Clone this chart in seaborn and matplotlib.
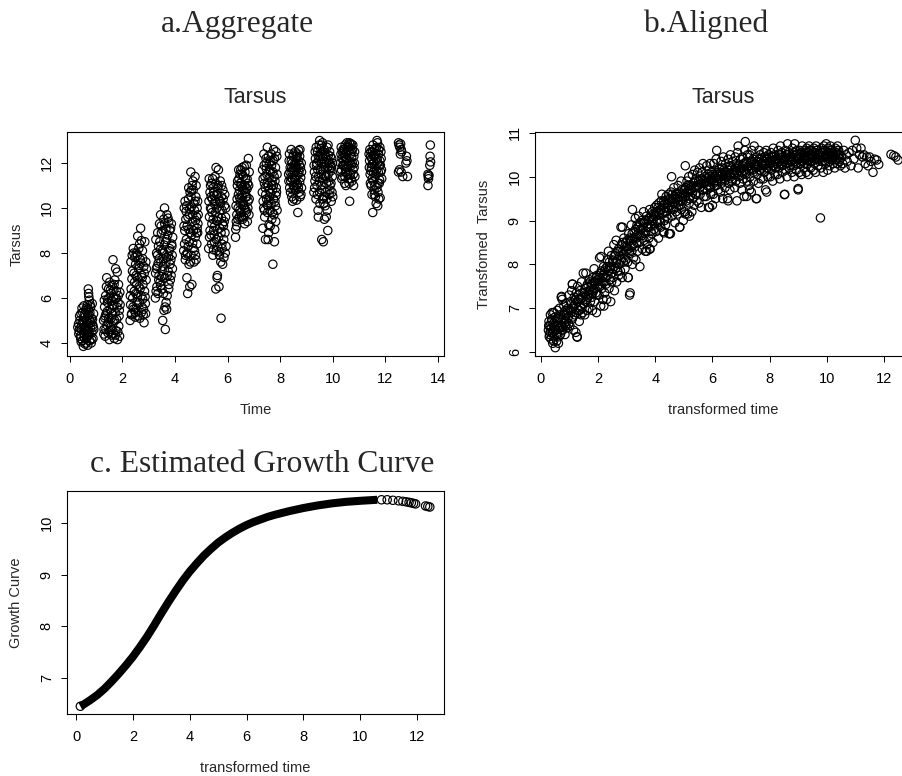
import matplotlib
matplotlib.use("Agg")
import matplotlib.pyplot as plt
import seaborn as sns

# panel a: raw (time, tarsus) readings, grouped by sampling occasion
aggregate_pts = [
    # ~0.6
    (0.30,4.7),(0.33,4.85),(0.35,4.55),(0.38,5.0),(0.40,4.3),(0.42,5.3),(0.44,4.6),(0.46,5.55),
    (0.48,4.1),(0.50,4.9),(0.51,3.85),(0.53,5.65),(0.55,4.4),(0.56,5.15),(0.58,3.95),(0.60,4.75),
    (0.61,5.45),(0.63,4.2),(0.64,5.0),(0.66,4.55),(0.67,5.7),(0.69,4.35),(0.70,6.4),(0.71,6.2),
    (0.72,6.05),(0.72,4.85),(0.74,5.9),(0.75,4.1),(0.76,5.35),(0.78,4.65),(0.79,5.6),(0.81,4.0),
    (0.82,5.1),(0.84,4.45),(0.85,5.75),(0.87,4.8),(0.88,4.2),(0.90,5.3),(0.91,4.6),(0.57,4.6),
    (0.62,4.0),(0.68,5.2),(0.45,4.8),(0.52,4.45),(0.77,5.0),
    (0.34,4.4),(0.37,5.2),(0.39,4.65),(0.43,4.05),(0.47,4.95),(0.49,5.35),(0.54,4.25),(0.57,5.3),
    (0.59,4.5),(0.62,5.55),(0.65,4.3),(0.66,4.9),(0.68,3.9),(0.70,4.6),(0.73,5.25),(0.74,4.4),
    (0.77,5.7),(0.80,4.9),(0.83,4.15),(0.86,5.05),(0.89,4.7),(0.71,5.5),(0.53,5.0),(0.41,4.2),
    # ~1.6
    (1.28,5.0),(1.30,4.6),(1.32,5.6),(1.34,4.3),(1.36,6.1),(1.38,5.3),(1.40,6.9),(1.41,4.8),
    (1.43,5.8),(1.45,4.45),(1.47,6.4),(1.48,5.1),(1.50,4.15),(1.51,6.7),(1.53,5.5),(1.55,4.7),
    (1.56,6.2),(1.58,5.9),(1.59,4.35),(1.61,6.55),(1.62,5.25),(1.64,7.7),(1.65,4.9),(1.66,6.0),
    (1.68,5.65),(1.69,4.2),(1.71,6.8),(1.72,5.35),(1.74,7.3),(1.75,4.55),(1.77,6.3),(1.78,5.05),
    (1.80,7.15),(1.81,4.15),(1.83,5.8),(1.85,6.6),(1.86,4.75),(1.88,5.45),(1.90,6.25),(1.44,5.95),
    (1.57,5.1),(1.67,6.35),(1.35,5.2),(1.73,5.95),
    (1.29,4.4),(1.31,5.9),(1.33,5.1),(1.37,4.6),(1.39,6.5),(1.42,5.4),(1.46,4.9),(1.49,6.0),
    (1.52,4.5),(1.54,6.35),(1.58,5.35),(1.60,4.6),(1.63,5.7),(1.66,4.4),(1.68,6.6),(1.70,5.0),
    (1.73,4.35),(1.76,6.0),(1.79,5.6),(1.82,4.5),(1.84,6.1),(1.87,5.2),(1.89,4.3),(1.91,5.7),
    # ~2.6
    (2.29,5.0),(2.31,5.7),(2.33,6.4),(2.35,5.3),(2.37,7.9),(2.39,6.0),(2.41,8.2),(2.42,5.5),
    (2.44,7.1),(2.46,6.7),(2.48,5.15),(2.50,7.5),(2.51,6.2),(2.53,8.0),(2.55,5.8),(2.56,6.9),
    (2.58,8.75),(2.60,5.4),(2.61,7.3),(2.63,6.5),(2.65,8.4),(2.66,5.1),(2.68,7.7),(2.69,9.1),
    (2.71,6.1),(2.73,7.0),(2.74,5.6),(2.76,8.1),(2.78,6.6),(2.79,5.25),(2.81,7.4),(2.82,4.9),
    (2.84,6.3),(2.85,8.5),(2.87,5.75),(2.89,7.6),(2.90,6.8),(2.36,6.85),(2.47,7.8),(2.57,6.05),
    (2.64,7.45),(2.72,8.55),(2.52,5.55),(2.77,5.95),
    (2.30,6.1),(2.32,7.6),(2.34,5.25),(2.38,7.2),(2.40,5.6),(2.43,8.0),(2.45,6.3),(2.49,5.35),
    (2.52,7.0),(2.54,6.6),(2.57,7.9),(2.59,5.2),(2.62,8.2),(2.64,5.8),(2.67,6.4),(2.70,7.55),
    (2.72,5.35),(2.75,6.9),(2.77,7.75),(2.80,5.5),(2.83,7.1),(2.86,6.05),(2.88,5.3),(2.91,7.3),
    # ~3.6
    (3.25,6.0),(3.27,8.6),(3.29,7.3),(3.31,6.5),(3.33,7.9),(3.35,6.2),(3.37,8.3),(3.39,7.0),
    (3.41,9.3),(3.43,6.7),(3.45,9.7),(3.46,7.6),(3.48,8.9),(3.50,6.4),(3.52,8.1),(3.53,5.0),
    (3.55,7.4),(3.57,9.5),(3.58,5.45),(3.60,10.0),(3.61,6.9),(3.63,4.6),(3.64,8.5),(3.66,5.8),
    (3.67,7.8),(3.69,9.7),(3.70,6.1),(3.72,8.8),(3.74,7.2),(3.76,9.4),(3.77,6.6),(3.79,8.2),
    (3.81,7.5),(3.83,9.1),(3.85,7.0),(3.87,8.4),(3.89,7.9),(3.91,8.7),(3.44,8.15),(3.54,7.75),
    (3.65,9.05),(3.75,7.85),(3.49,6.95),(3.59,8.35),(3.68,5.5),(3.36,7.55),
    (3.26,7.1),(3.28,6.3),(3.30,8.0),(3.32,7.4),(3.34,8.9),(3.38,6.8),(3.40,7.75),(3.42,8.5),
    (3.45,6.55),(3.47,9.2),(3.51,7.2),(3.54,9.0),(3.56,6.2),(3.58,8.0),(3.61,9.3),(3.62,5.6),
    (3.65,7.6),(3.68,8.6),(3.71,7.0),(3.73,9.55),(3.76,6.4),(3.78,8.1),(3.80,9.0),(3.82,6.8),
    (3.84,7.7),(3.86,9.3),(3.88,8.3),(3.90,7.3),
    # ~4.6
    (4.33,8.1),(4.35,10.0),(4.37,9.0),(4.39,7.7),(4.41,9.5),(4.43,8.6),(4.45,6.9),(4.46,9.2),
    (4.48,6.2),(4.50,8.3),(4.51,10.4),(4.53,7.5),(4.55,9.7),(4.56,6.5),(4.58,8.9),(4.60,11.6),
    (4.61,7.9),(4.63,10.8),(4.64,6.6),(4.66,9.4),(4.68,11.2),(4.69,8.2),(4.71,10.2),(4.72,7.6),
    (4.74,9.9),(4.76,11.4),(4.77,8.7),(4.79,10.5),(4.80,7.7),(4.82,9.6),(4.84,10.0),(4.86,8.9),
    (4.87,9.3),(4.42,9.85),(4.52,9.05),(4.62,10.05),(4.70,9.0),(4.78,9.45),(4.47,7.95),(4.57,10.7),
    (4.67,8.45),(4.83,8.4),
    (4.34,9.2),(4.36,8.4),(4.38,10.3),(4.40,7.9),(4.44,10.1),(4.46,8.0),(4.49,9.6),(4.52,10.9),
    (4.54,8.5),(4.56,9.95),(4.59,7.6),(4.61,10.5),(4.63,8.8),(4.65,11.0),(4.67,9.7),(4.69,10.8),
    (4.72,9.2),(4.74,8.1),(4.76,10.3),(4.78,7.9),(4.80,11.0),(4.82,8.9),(4.84,9.1),(4.86,10.3),
    (4.88,9.7),
    # ~5.6
    (5.28,8.2),(5.30,11.3),(5.31,9.6),(5.33,10.7),(5.35,10.0),(5.37,8.8),(5.39,11.1),(5.40,9.3),
    (5.42,10.4),(5.44,7.9),(5.45,10.9),(5.47,9.0),(5.49,10.2),(5.50,8.5),(5.52,11.4),(5.54,9.8),
    (5.55,6.4),(5.56,11.8),(5.58,8.1),(5.59,10.6),(5.60,6.9),(5.61,7.0),(5.62,9.4),(5.64,11.0),
    (5.65,11.7),(5.66,8.7),(5.67,6.5),(5.69,10.3),(5.70,9.1),(5.72,11.2),(5.74,7.6),(5.75,5.1),
    (5.76,10.5),(5.78,8.4),(5.79,9.9),(5.81,7.5),(5.82,10.8),(5.84,9.2),(5.86,7.8),(5.88,10.1),
    (5.90,8.9),(5.92,9.6),(5.94,8.3),(5.38,9.95),(5.48,10.55),(5.57,9.45),(5.68,8.05),(5.77,9.55),
    (5.46,8.15),
    (5.29,10.3),(5.31,8.7),(5.33,9.0),(5.35,11.0),(5.37,10.5),(5.39,8.4),(5.41,9.8),(5.43,11.3),
    (5.45,9.5),(5.47,10.7),(5.49,8.8),(5.51,9.2),(5.53,10.3),(5.55,11.1),(5.57,8.6),(5.59,10.0),
    (5.61,8.3),(5.63,10.9),(5.65,9.6),(5.67,10.4),(5.69,7.9),(5.71,9.9),(5.73,10.2),(5.75,8.9),
    (5.77,11.0),(5.79,8.2),(5.81,9.3),(5.83,10.4),(5.85,8.6),(5.87,9.4),(5.89,10.6),(5.91,8.0),
    (5.93,10.0),
    # ~6.6
    (6.30,8.7),(6.31,9.05),(6.33,9.4),(6.34,9.2),(6.36,10.4),(6.38,11.2),(6.40,10.0),(6.42,11.7),
    (6.44,9.6),(6.45,10.8),(6.47,11.5),(6.49,10.2),(6.50,9.8),(6.52,11.0),(6.54,10.6),(6.55,11.8),
    (6.57,9.5),(6.58,10.9),(6.60,11.4),(6.62,10.1),(6.63,11.85),(6.65,9.3),(6.67,10.7),(6.68,11.3),
    (6.70,9.9),(6.71,11.9),(6.73,10.5),(6.75,9.4),(6.76,11.1),(6.78,10.3),(6.79,12.2),(6.81,9.7),
    (6.82,11.6),(6.46,10.45),(6.56,10.15),(6.66,11.0),(6.74,10.85),(6.61,9.6),
    (6.32,10.1),(6.35,9.7),(6.37,11.0),(6.39,9.5),(6.41,10.6),(6.43,11.3),(6.46,9.9),(6.48,11.1),
    (6.51,10.4),(6.53,9.6),(6.56,11.5),(6.59,10.3),(6.61,10.8),(6.64,10.0),(6.66,11.6),(6.69,10.5),
    (6.72,9.8),(6.74,11.3),(6.77,10.0),(6.80,11.0),(6.82,10.4),(6.50,11.7),(6.70,10.9),
    # ~7.6
    (7.32,10.7),(7.34,9.1),(7.35,11.3),(7.37,10.0),(7.39,11.9),(7.41,9.6),(7.43,10.9),(7.44,8.6),
    (7.46,12.2),(7.48,10.4),(7.49,11.5),(7.51,12.7),(7.52,9.8),(7.54,8.6),(7.55,11.0),(7.56,8.9),
    (7.57,9.25),(7.59,12.0),(7.60,10.5),(7.62,9.2),(7.63,11.6),(7.65,10.2),(7.66,12.4),(7.68,9.5),
    (7.69,11.2),(7.71,10.8),(7.72,7.5),(7.73,12.1),(7.75,12.6),(7.76,9.7),(7.77,11.4),(7.78,8.5),
    (7.80,10.3),(7.82,11.8),(7.83,9.4),(7.85,10.9),(7.87,12.3),(7.88,9.9),(7.40,11.1),(7.50,10.15),
    (7.58,11.35),(7.64,10.65),(7.74,11.0),(7.84,10.55),(7.47,11.75),(7.79,9.05),
    (7.33,11.7),(7.35,10.3),(7.38,12.4),(7.40,9.9),(7.42,11.4),(7.45,10.6),(7.47,12.0),(7.50,11.1),
    (7.53,10.1),(7.55,12.3),(7.58,10.8),(7.60,11.7),(7.62,9.9),(7.64,12.1),(7.67,11.0),(7.70,9.8),
    (7.72,11.6),(7.75,10.4),(7.78,12.2),(7.80,11.2),(7.82,10.1),(7.84,12.5),(7.86,10.7),(7.88,11.5),
    (7.57,10.35),(7.67,11.9),
    # ~8.6
    (8.32,11.5),(8.34,12.1),(8.36,10.9),(8.38,11.8),(8.40,11.2),(8.42,12.6),(8.44,10.5),(8.45,11.6),
    (8.47,10.3),(8.49,12.3),(8.50,11.0),(8.52,10.4),(8.54,11.9),(8.55,11.3),(8.57,12.5),(8.59,10.8),
    (8.60,11.7),(8.62,10.35),(8.63,12.2),(8.65,11.1),(8.67,9.8),(8.68,11.5),(8.70,12.55),(8.72,10.7),
    (8.73,11.9),(8.75,12.6),(8.76,10.5),(8.78,11.35),(8.80,12.0),(8.81,10.9),(8.41,11.35),(8.53,11.6),
    (8.64,11.8),(8.74,11.15),(8.46,12.0),(8.58,11.25),
    (8.33,11.2),(8.35,12.4),(8.37,11.6),(8.39,10.7),(8.42,12.1),(8.44,11.8),(8.47,11.3),(8.49,10.8),
    (8.51,12.4),(8.54,10.9),(8.56,12.0),(8.58,11.9),(8.61,12.3),(8.63,11.0),(8.66,12.4),(8.69,10.9),
    (8.71,11.6),(8.74,12.3),(8.77,11.8),(8.79,10.6),(8.81,11.6),(8.50,11.7),(8.60,11.45),(8.70,12.1),
    # ~9.6
    (9.28,10.7),(9.30,11.6),(9.32,11.2),(9.34,12.2),(9.36,10.4),(9.38,11.9),(9.40,11.0),(9.42,12.5),
    (9.44,9.9),(9.45,9.6),(9.46,11.4),(9.48,12.8),(9.50,13.0),(9.51,10.2),(9.53,11.7),(9.55,12.4),
    (9.56,10.8),(9.58,8.6),(9.59,12.0),(9.61,12.9),(9.62,11.3),(9.64,8.5),(9.65,10.5),(9.67,12.6),
    (9.68,9.5),(9.70,11.8),(9.71,10.1),(9.73,12.3),(9.75,9.6),(9.76,11.1),(9.78,12.7),(9.79,9.9),
    (9.81,9.0),(9.82,11.5),(9.84,12.1),(9.86,10.6),(9.88,12.5),(9.90,11.0),(9.92,11.9),(9.94,10.3),
    (9.96,12.2),(9.98,11.4),(10.00,10.5),(9.39,12.0),(9.49,11.2),(9.57,11.5),(9.66,11.95),(9.74,11.45),
    (9.83,12.35),(9.93,11.65),(9.54,12.65),(9.87,11.75),
    (9.29,11.9),(9.31,10.9),(9.33,12.5),(9.35,11.4),(9.37,12.7),(9.41,10.6),(9.43,11.7),(9.47,12.1),
    (9.50,10.7),(9.52,12.3),(9.55,11.0),(9.57,12.8),(9.60,10.4),(9.62,12.2),(9.64,11.7),(9.66,10.2),
    (9.69,12.4),(9.71,11.4),(9.73,10.7),(9.75,12.0),(9.77,10.4),(9.80,11.8),(9.82,12.8),(9.85,11.2),
    (9.87,12.0),(9.89,10.8),(9.91,12.3),(9.93,11.1),(9.95,11.8),(9.97,10.7),(9.99,12.0),(9.63,12.5),
    (9.45,12.3),
    # ~10.6
    (10.29,12.0),(10.31,12.4),(10.33,11.7),(10.35,12.2),(10.37,11.4),(10.39,12.6),(10.41,11.9),
    (10.43,12.3),(10.45,11.1),(10.47,12.8),(10.48,11.6),(10.50,11.0),(10.52,12.5),(10.54,12.9),
    (10.55,11.8),(10.57,12.1),(10.59,11.3),(10.61,12.7),(10.63,12.9),(10.64,10.3),(10.66,11.5),
    (10.68,12.4),(10.70,12.85),(10.71,11.9),(10.73,11.2),(10.75,12.6),(10.77,11.7),(10.79,11.0),
    (10.80,12.3),(10.82,12.0),(10.84,11.4),(10.40,12.45),(10.51,12.15),(10.62,12.05),(10.72,12.25),
    (10.58,12.55),(10.46,11.85),
    (10.30,11.6),(10.32,12.7),(10.34,11.3),(10.36,12.5),(10.38,11.9),(10.42,12.1),(10.44,12.6),
    (10.46,11.4),(10.49,12.4),(10.51,11.7),(10.53,12.2),(10.56,11.5),(10.58,12.8),(10.60,11.9),
    (10.62,11.1),(10.65,12.6),(10.67,12.0),(10.69,11.3),(10.71,12.5),(10.74,12.0),(10.76,12.8),
    (10.78,11.5),(10.81,11.8),(10.83,12.5),(10.66,12.85),(10.55,12.7),
    # ~11.6
    (11.38,12.4),(11.40,12.1),(11.42,11.5),(11.44,12.3),(11.46,11.0),(11.47,11.8),(11.49,10.6),
    (11.51,12.5),(11.52,9.8),(11.54,11.2),(11.56,12.0),(11.57,10.8),(11.59,12.6),(11.61,11.4),
    (11.62,10.5),(11.64,12.2),(11.65,10.2),(11.67,11.7),(11.68,13.0),(11.70,12.9),(11.71,10.1),
    (11.72,11.1),(11.74,12.4),(11.75,10.4),(11.77,11.9),(11.79,12.7),(11.80,10.45),(11.82,11.6),
    (11.84,12.2),(11.86,11.3),(11.50,11.95),(11.60,11.75),(11.69,12.15),(11.78,11.25),(11.55,12.35),
    (11.45,11.65),
    (11.39,11.8),(11.41,12.6),(11.43,11.1),(11.45,12.5),(11.48,12.2),(11.50,11.3),(11.53,12.8),
    (11.55,11.6),(11.57,12.3),(11.60,11.0),(11.62,12.4),(11.64,11.5),(11.66,12.7),(11.68,10.9),
    (11.70,12.0),(11.73,11.6),(11.75,12.6),(11.77,11.1),(11.79,12.1),(11.81,11.9),(11.83,12.5),
    (11.85,11.7),(11.58,10.6),(11.72,10.7),
    # ~12.6
    (12.50,12.9),(12.52,12.8),(12.55,12.7),(12.58,12.85),(12.60,12.6),(12.62,12.5),(12.57,12.4),
    (12.54,11.7),(12.60,11.6),(12.66,11.4),(12.80,12.3),(12.82,12.1),(12.78,12.0),(12.84,11.4),
    (12.50,11.6),
    # ~13.7
    (13.71,12.8),(13.70,12.3),(13.72,12.05),(13.69,11.9),(13.62,11.5),(13.63,11.4),(13.64,11.3),
    (13.62,11.0),(13.66,11.45),
]

# panel b: registered (transformed time, transformed tarsus)
aligned_pts = [
    (0.26,6.5),(0.28,6.7),(0.30,6.4),(0.31,6.6),(0.33,6.85),(0.35,6.3),(0.36,6.55),(0.38,6.75),
    (0.40,6.45),(0.41,6.2),(0.43,6.65),(0.45,6.9),(0.46,6.35),(0.48,6.6),(0.49,6.8),(0.50,6.1),
    (0.52,6.5),(0.54,6.7),(0.55,6.25),(0.57,6.95),(0.58,6.45),(0.60,6.6),(0.62,6.8),(0.63,6.35),
    (0.65,7.0),(0.66,6.55),(0.68,6.4),(0.70,6.75),(0.71,7.25),(0.73,6.6),(0.74,7.2),
    (0.76,6.5),(0.78,6.85),(0.80,7.05),(0.82,6.65),(0.84,6.4),(0.86,6.95),(0.88,7.1),(0.90,6.7),
    (0.92,6.55),(0.94,7.0),(0.96,6.8),(0.98,7.3),
    (1.01,6.6),(1.03,7.15),(1.05,6.9),(1.07,7.4),(1.09,6.75),(1.10,7.55),(1.12,7.0),(1.14,6.5),
    (1.16,7.25),(1.18,6.85),(1.20,7.1),(1.22,6.45),(1.24,7.35),
    (1.26,6.35),(1.28,7.5),(1.30,6.95),(1.32,7.2),(1.34,6.7),(1.36,7.4),(1.38,7.05),(1.40,6.85),
    (1.42,7.6),(1.44,7.25),(1.46,6.9),(1.48,7.8),
    (1.51,7.1),(1.53,6.85),(1.55,7.45),(1.57,7.8),(1.59,7.2),(1.61,6.95),(1.63,7.55),(1.65,7.3),
    (1.67,7.0),(1.69,7.65),(1.71,7.4),(1.73,7.15),
    (1.76,7.5),(1.78,7.25),(1.80,6.95),(1.82,7.7),(1.84,7.4),(1.86,7.9),(1.88,7.15),(1.90,7.6),
    (1.92,7.35),(1.94,6.9),(1.96,7.75),(1.98,7.5),
    (2.01,7.65),(2.03,7.3),(2.05,8.15),(2.07,7.55),(2.09,7.05),(2.11,7.85),(2.13,7.45),(2.15,7.7),
    (2.17,7.2),(2.19,7.95),(2.21,7.6),(2.23,7.35),
    (2.26,7.9),(2.28,7.55),(2.30,7.2),(2.32,8.1),(2.34,7.75),(2.36,8.3),(2.38,7.45),(2.40,7.95),
    (2.42,7.65),(2.44,7.15),(2.46,8.2),(2.48,7.8),
    (2.51,8.05),(2.53,7.7),(2.55,8.45),(2.57,7.4),(2.59,8.2),(2.61,7.9),(2.63,8.55),(2.65,7.6),
    (2.67,8.1),(2.69,7.85),(2.71,8.35),(2.73,8.0),
    (2.76,8.2),(2.78,7.85),(2.80,8.85),(2.82,8.45),(2.84,7.7),(2.86,8.3),(2.88,8.05),(2.90,8.6),
    (2.92,8.15),(2.94,7.9),(2.96,8.5),(2.98,8.3),
    (3.01,8.4),(3.03,8.05),(3.05,7.7),(3.07,8.7),(3.09,8.25),(3.10,7.3),(3.12,7.35),(3.14,8.55),
    (3.16,8.9),(3.18,8.3),(3.20,9.25),(3.22,8.6),(3.24,8.15),
    (3.26,8.75),(3.28,8.4),(3.30,9.05),(3.32,8.1),(3.34,8.6),(3.36,8.9),(3.38,8.3),(3.40,8.7),
    (3.42,9.1),(3.44,8.5),(3.46,7.95),(3.48,8.8),
    (3.51,8.65),(3.53,9.0),(3.55,8.35),(3.57,8.85),(3.59,9.2),(3.61,8.55),(3.63,8.95),(3.65,8.3),
    (3.67,8.75),(3.69,9.1),(3.71,8.45),(3.73,8.85),
    (3.76,9.0),(3.78,8.6),(3.80,9.25),(3.82,8.35),(3.84,8.9),(3.86,9.1),(3.88,8.7),(3.90,9.2),
    (3.92,8.5),(3.94,9.05),(3.96,8.8),(3.98,9.3),
    (4.01,9.1),(4.03,8.75),(4.05,9.35),(4.07,8.95),(4.09,9.2),(4.11,8.6),(4.13,9.4),(4.15,9.0),
    (4.17,9.25),(4.19,8.85),(4.21,9.45),(4.23,9.6),
    (4.26,9.15),(4.28,8.75),(4.30,9.45),(4.32,9.0),(4.34,9.3),(4.36,8.9),(4.38,9.55),(4.40,9.2),
    (4.42,9.4),(4.44,9.05),(4.46,9.6),(4.48,8.7),
    (4.51,9.35),(4.53,8.7),(4.55,9.65),(4.57,10.0),(4.59,9.1),(4.61,9.5),(4.63,9.25),(4.65,9.75),
    (4.67,9.4),(4.69,8.95),(4.71,9.6),(4.73,9.3),
    (4.76,9.5),(4.78,9.15),(4.80,9.8),(4.82,9.35),(4.84,9.65),(4.86,8.85),(4.88,9.45),(4.90,9.9),
    (4.92,9.25),(4.94,9.7),(4.96,9.55),(4.98,9.0),
    (5.01,9.6),(5.03,9.2),(5.05,10.25),(5.07,9.75),(5.09,9.45),(5.11,9.9),(5.13,9.15),(5.15,9.65),
    (5.17,10.0),(5.19,9.4),(5.21,9.8),(5.23,9.55),
    (5.26,9.7),(5.28,9.2),(5.30,10.05),(5.32,9.5),(5.34,9.85),(5.36,9.35),(5.38,10.15),(5.40,9.6),
    (5.42,9.95),(5.44,9.75),(5.46,9.45),(5.48,10.1),
    (5.51,9.8),(5.53,9.4),(5.55,10.2),(5.57,9.6),(5.59,9.95),(5.61,9.3),(5.63,10.1),(5.65,9.7),
    (5.67,10.3),(5.69,9.85),(5.71,9.55),(5.73,10.0),
    (5.76,9.9),(5.78,9.55),(5.80,10.25),(5.82,9.7),(5.84,10.05),(5.86,9.3),(5.88,10.15),(5.90,9.8),
    (5.92,10.3),(5.94,9.6),(5.96,9.95),(5.98,10.1),
    (6.01,9.95),(6.03,9.6),(6.05,10.3),(6.07,9.8),(6.09,10.15),(6.11,9.5),(6.13,10.4),(6.15,10.6),
    (6.17,9.9),(6.19,10.05),(6.21,9.7),(6.23,10.2),
    (6.26,10.0),(6.28,9.65),(6.30,10.35),(6.32,9.85),(6.34,10.2),(6.36,9.5),(6.38,10.45),(6.40,9.95),
    (6.42,10.1),(6.44,9.75),(6.46,10.3),(6.48,10.05),
    (6.51,10.1),(6.53,9.5),(6.55,10.4),(6.57,9.85),(6.59,10.25),(6.61,9.7),(6.63,10.5),(6.65,10.0),
    (6.67,10.2),(6.69,9.9),(6.71,10.35),(6.73,10.05),
    (6.76,10.15),(6.78,9.75),(6.80,10.45),(6.82,9.9),(6.84,10.3),(6.86,9.45),(6.88,10.55),(6.90,10.7),
    (6.92,10.05),(6.94,10.2),(6.96,9.85),(6.98,10.4),
    (7.01,10.2),(7.03,9.7),(7.05,10.45),(7.07,9.95),(7.09,10.3),(7.11,9.55),(7.13,10.6),(7.15,10.8),
    (7.17,10.1),(7.19,10.35),(7.21,9.9),(7.23,10.5),
    (7.26,10.25),(7.28,9.8),(7.30,10.5),(7.32,10.0),(7.34,10.35),(7.36,9.65),(7.38,10.6),(7.40,10.15),
    (7.42,10.4),(7.44,9.9),(7.46,10.7),(7.48,10.3),
    (7.51,10.25),(7.53,9.5),(7.55,10.45),(7.57,10.05),(7.59,10.35),(7.61,9.85),(7.63,10.6),(7.65,10.15),
    (7.67,10.5),(7.69,9.95),(7.71,10.4),(7.73,10.2),
    (7.76,10.3),(7.78,9.95),(7.80,10.55),(7.82,10.1),(7.84,10.45),(7.86,9.7),(7.88,10.6),(7.90,10.2),
    (7.92,10.4),(7.94,10.0),(7.96,10.5),(7.98,10.25),
    (8.01,10.35),(8.03,10.0),(8.05,10.55),(8.07,10.15),(8.09,10.45),(8.11,9.9),(8.13,10.65),(8.15,10.25),
    (8.17,10.5),(8.19,10.05),(8.21,10.4),(8.23,10.3),
    (8.26,10.4),(8.28,10.05),(8.30,10.6),(8.32,10.2),(8.34,10.5),(8.36,9.95),(8.38,10.7),(8.40,10.3),
    (8.42,10.55),(8.44,10.1),(8.46,10.45),(8.48,10.35),
    (8.51,10.4),(8.53,9.6),(8.55,10.6),(8.57,10.15),(8.59,10.5),(8.61,10.0),(8.63,10.75),(8.65,10.3),
    (8.67,10.55),(8.69,10.2),(8.71,10.45),(8.73,10.35),
    (8.76,10.45),(8.78,10.1),(8.80,10.65),(8.82,10.25),(8.84,10.55),(8.86,10.0),(8.88,10.75),(8.90,10.35),
    (8.92,10.5),(8.94,10.15),(8.96,10.6),(8.98,10.4),
    (9.00,9.7),(9.02,10.45),(9.04,10.1),(9.06,10.6),(9.08,10.3),(9.10,10.55),(9.12,10.05),(9.14,10.7),
    (9.16,10.35),(9.18,10.5),(9.20,10.2),(9.22,10.4),(9.24,10.6),
    (9.26,10.45),(9.28,10.1),(9.30,10.65),(9.32,10.3),(9.34,10.55),(9.36,10.05),(9.38,10.7),(9.40,10.4),
    (9.42,10.5),(9.44,10.2),(9.46,10.6),(9.48,10.35),
    (9.51,10.5),(9.53,10.15),(9.55,10.65),(9.57,10.3),(9.59,10.55),(9.61,10.1),(9.63,10.7),(9.65,10.4),
    (9.67,10.6),(9.69,10.25),(9.71,10.5),(9.73,10.35),
    (9.76,10.5),(9.78,9.06),(9.80,10.2),(9.82,10.65),(9.84,10.35),(9.86,10.55),(9.88,10.1),(9.90,10.7),
    (9.92,10.45),(9.94,10.6),(9.96,10.3),(9.98,10.75),
    (10.01,10.5),(10.03,10.15),(10.05,10.65),(10.07,10.35),(10.09,10.55),(10.11,10.25),(10.13,10.7),
    (10.15,10.45),(10.17,10.6),(10.19,10.4),(10.21,10.55),(10.23,10.3),
    (10.26,10.5),(10.28,10.2),(10.30,10.65),(10.32,10.4),(10.34,10.55),(10.36,10.3),(10.38,10.7),
    (10.40,10.45),(10.42,10.6),(10.44,10.35),(10.46,10.5),(10.48,10.25),
    (10.52,10.45),(10.56,10.3),(10.60,10.6),(10.64,10.2),(10.68,10.5),(10.72,10.35),
    (10.78,10.55),(10.85,10.25),(10.90,10.6),(10.95,10.4),(11.00,10.83),(11.05,10.65),(11.10,10.2),
    (11.15,10.5),(11.20,10.65),(11.25,10.45),(11.30,10.5),(11.35,10.3),(11.40,10.45),(11.45,10.25),
    (11.50,10.45),(11.55,10.35),(11.62,10.1),(11.68,10.4),(11.75,10.38),(11.82,10.28),
    (12.25,10.51),(12.35,10.48),(12.42,10.45),(12.50,10.38),
    # scattered low readings
    (3.05,7.7),(4.50,8.7),(4.30,8.72),(4.85,8.85),(5.05,9.15),(5.20,9.1),(5.90,9.3),(6.00,9.35),
    (8.52,9.59),(9.00,9.73),(7.55,9.5),(7.90,9.65),(6.55,9.45),(7.20,9.55),(7.30,9.7),(3.80,8.35),
    (3.70,8.3),(2.20,7.05),(1.27,6.34),(3.20,8.0),(2.85,8.85),(2.10,8.18),(1.10,7.55),(0.72,7.27),
    # core of the band
    (0.27,6.6),(0.32,6.45),(0.37,6.7),(0.42,6.5),(0.47,6.55),(0.29,6.35),(0.39,6.9),(0.44,6.25),
    (0.53,6.6),(0.56,6.4),(0.59,6.75),(0.64,6.55),(0.67,6.85),(0.72,6.5),(0.61,6.2),
    (0.77,6.75),(0.81,6.9),(0.85,6.6),(0.89,6.85),(0.93,6.95),(0.97,6.65),
    (1.02,6.95),(1.06,7.1),(1.11,6.8),(1.15,7.05),(1.19,7.2),(1.23,6.9),
    (1.27,7.15),(1.31,7.3),(1.35,6.95),(1.39,7.2),(1.43,7.0),(1.47,7.35),
    (1.52,7.35),(1.56,7.15),(1.60,7.5),(1.64,7.25),(1.68,7.4),(1.72,7.6),
    (1.77,7.55),(1.81,7.35),(1.85,7.6),(1.89,7.45),(1.93,7.7),(1.97,7.3),
    (2.02,7.7),(2.06,7.5),(2.10,7.8),(2.14,7.6),(2.18,7.75),(2.22,7.85),
    (2.27,7.7),(2.31,7.95),(2.35,7.85),(2.39,8.05),(2.43,7.9),(2.47,7.6),
    (2.52,8.1),(2.56,7.95),(2.60,8.25),(2.64,8.05),(2.68,8.3),(2.72,7.75),
    (2.77,8.3),(2.81,8.1),(2.85,8.5),(2.89,8.25),(2.93,8.4),(2.97,8.1),
    (3.02,8.55),(3.06,8.35),(3.11,8.6),(3.15,8.4),(3.19,8.7),(3.23,8.45),
    (3.27,8.6),(3.31,8.8),(3.35,8.5),(3.39,8.85),(3.43,8.65),(3.47,8.95),
    (3.52,8.8),(3.56,8.6),(3.60,8.95),(3.64,8.7),(3.68,9.0),(3.72,8.85),
    (3.77,8.85),(3.81,9.05),(3.85,8.75),(3.89,9.0),(3.93,9.15),(3.97,8.9),
    (4.02,9.2),(4.06,9.0),(4.10,9.3),(4.14,9.15),(4.18,8.95),(4.22,9.25),
    (4.27,9.35),(4.31,9.2),(4.35,9.4),(4.39,9.1),(4.43,9.3),(4.47,9.45),
    (4.52,9.5),(4.56,9.3),(4.60,9.6),(4.64,9.4),(4.68,9.55),(4.72,9.2),
    (4.77,9.6),(4.81,9.45),(4.85,9.55),(4.89,9.35),(4.93,9.6),(4.97,9.45),
    (5.02,9.7),(5.06,9.55),(5.10,9.65),(5.14,9.8),(5.18,9.5),(5.22,9.7),
    (5.27,9.8),(5.31,9.65),(5.35,9.75),(5.39,9.9),(5.43,9.6),(5.47,9.8),
    (5.52,9.9),(5.56,9.75),(5.60,9.85),(5.64,9.95),(5.68,9.7),(5.72,9.85),
    (5.77,9.95),(5.81,9.8),(5.85,9.9),(5.89,10.0),(5.93,9.75),(5.97,9.9),
    (6.02,10.05),(6.06,9.9),(6.10,10.0),(6.14,9.8),(6.18,10.1),(6.22,9.95),
    (6.27,10.1),(6.31,9.95),(6.35,10.05),(6.39,10.15),(6.43,9.9),(6.47,10.0),
    (6.52,10.0),(6.56,10.15),(6.60,10.05),(6.64,10.25),(6.68,9.95),(6.72,10.1),
    (6.77,10.05),(6.81,10.2),(6.85,10.1),(6.89,10.25),(6.93,10.0),(6.97,10.15),
    (7.02,10.1),(7.06,10.25),(7.10,10.15),(7.14,10.3),(7.18,10.05),(7.22,10.2),
    (7.27,10.15),(7.31,10.3),(7.35,10.2),(7.39,10.35),(7.43,10.1),(7.47,10.25),
    (7.52,10.2),(7.56,10.35),(7.60,10.25),(7.64,10.4),(7.68,10.15),(7.72,10.3),
    (7.77,10.25),(7.81,10.35),(7.85,10.3),(7.89,10.45),(7.93,10.2),(7.97,10.35),
    (8.02,10.3),(8.06,10.4),(8.10,10.25),(8.14,10.45),(8.18,10.35),(8.22,10.2),
    (8.27,10.3),(8.31,10.45),(8.35,10.35),(8.39,10.5),(8.43,10.25),(8.47,10.4),
    (8.52,10.35),(8.56,10.45),(8.60,10.3),(8.64,10.5),(8.68,10.4),(8.72,10.25),
    (8.77,10.35),(8.81,10.5),(8.85,10.4),(8.89,10.55),(8.93,10.3),(8.97,10.45),
    (9.03,10.4),(9.07,10.5),(9.11,10.35),(9.15,10.55),(9.19,10.45),(9.23,10.3),
    (9.27,10.4),(9.31,10.55),(9.35,10.45),(9.39,10.6),(9.43,10.35),(9.47,10.5),
    (9.52,10.45),(9.56,10.55),(9.60,10.4),(9.64,10.6),(9.68,10.5),(9.72,10.4),
    (9.77,10.45),(9.81,10.55),(9.85,10.45),(9.89,10.6),(9.93,10.35),(9.97,10.5),
    (10.02,10.45),(10.06,10.55),(10.10,10.4),(10.14,10.6),(10.18,10.5),(10.22,10.45),
    (10.27,10.45),(10.31,10.55),(10.35,10.4),(10.39,10.6),(10.43,10.5),(10.47,10.4),
]

# panel c: fitted growth curve
growth_time = [0.15, 0.25, 0.5, 0.75, 1.0, 1.25, 1.5, 1.75, 2.0, 2.25, 2.5, 2.75, 3.0, 3.25,
               3.5, 3.75, 4.0, 4.25, 4.5, 4.75, 5.0, 5.25, 5.5, 5.75, 6.0, 6.25, 6.5, 6.75,
               7.0, 7.5, 8.0, 8.5, 9.0, 9.5, 10.0, 10.3, 10.6]
growth_curve = [6.45, 6.48, 6.57, 6.67, 6.79, 6.93, 7.08, 7.24, 7.41, 7.60, 7.80, 8.02, 8.25, 8.47,
                8.68, 8.88, 9.06, 9.22, 9.37, 9.50, 9.62, 9.72, 9.81, 9.89, 9.96, 10.02, 10.07, 10.12,
                10.16, 10.23, 10.29, 10.34, 10.38, 10.41, 10.43, 10.44, 10.45]
growth_tail_time = [10.75, 10.95, 11.15, 11.35, 11.5, 11.62, 11.72, 11.8, 11.88, 11.95, 12.3, 12.38, 12.45]
growth_tail = [10.45, 10.45, 10.44, 10.43, 10.42, 10.41, 10.4, 10.39, 10.38, 10.37, 10.33, 10.32, 10.31]

agg_time = [p[0] for p in aggregate_pts]
agg_tarsus = [p[1] for p in aggregate_pts]
al_time = [p[0] for p in aligned_pts]
al_tarsus = [p[1] for p in aligned_pts]

sns.set_style("white")
plt.rcParams['font.family'] = ['Liberation Sans', 'DejaVu Sans']

W, H = 903, 776
fig = plt.figure(figsize=(W / 100, H / 100), dpi=100)


def px_axes(left, top, right, bottom):
    return fig.add_axes([left / W, 1 - bottom / H, (right - left) / W, (bottom - top) / H])


def r_style(ax, xticks, yticks):
    for s in ax.spines.values():
        s.set_visible(True)
        s.set_color("black")
        s.set_linewidth(0.8)
    ax.set_xticks(xticks)
    ax.set_yticks(yticks)
    ax.tick_params(direction="out", length=4.5, width=0.7, colors="black",
                   labelsize=10.5, bottom=True, left=True)
    ax.tick_params(axis="x", pad=7)
    ax.tick_params(axis="y", pad=5)
    for lab in ax.get_yticklabels():
        lab.set_rotation(90)
        lab.set_va("center")
    ax.grid(False)


circ = dict(marker="o", facecolors="none", edgecolor="black", s=36, linewidth=0.85)

# a. Aggregate
ax1 = px_axes(67, 132, 444, 356)
sns.scatterplot(x=agg_time, y=agg_tarsus, ax=ax1, **circ)
ax1.set_xlim(-0.11, 14.23)
ax1.set_ylim(3.42, 13.38)
r_style(ax1, range(0, 15, 2), range(4, 13, 2))
ax1.set_xlabel("Time", fontsize=10.5, labelpad=12)
ax1.set_ylabel("Tarsus", fontsize=10.5, labelpad=12)

# b. Aligned
ax2 = px_axes(535, 132, 911, 356)
sns.scatterplot(x=al_time, y=al_tarsus, ax=ax2, **circ)
ax2.set_xlim(-0.21, 12.95)
ax2.set_ylim(5.91, 11.02)
r_style(ax2, range(0, 13, 2), range(6, 12))
ax2.set_xlabel("transformed time", fontsize=10.5, labelpad=12)
ax2.set_ylabel("Transfomed  Tarsus", fontsize=10.5, labelpad=12)

# c. Estimated growth curve
ax3 = px_axes(67, 491, 444, 714)
sns.lineplot(x=growth_time, y=growth_curve, ax=ax3, color="black", linewidth=5.8,
             solid_capstyle="butt", solid_joinstyle="round", sort=True)
sns.scatterplot(x=growth_time[:1] + growth_tail_time, y=growth_curve[:1] + growth_tail,
                ax=ax3, **circ)
ax3.set_xlim(-0.32, 12.95)
ax3.set_ylim(6.30, 10.62)
r_style(ax3, range(0, 13, 2), range(7, 11))
ax3.set_xlabel("transformed time", fontsize=10.5, labelpad=12)
ax3.set_ylabel("Growth Curve", fontsize=10.5, labelpad=12)

serif = ['Liberation Serif', 'DejaVu Serif']
fig.text(237 / W, 1 - 32 / H, "a.Aggregate", family=serif, fontsize=22.7, ha="center", va="baseline")
fig.text(707 / W, 1 - 32 / H, "b.Aligned", family=serif, fontsize=22.7, ha="center", va="baseline")
fig.text(262.5 / W, 1 - 471.7 / H, "c. Estimated Growth Curve", family=serif, fontsize=22.7,
         ha="center", va="baseline")
fig.text(255 / W, 1 - 102.7 / H, "Tarsus", fontsize=15.5, ha="center", va="baseline")
fig.text(723 / W, 1 - 102.7 / H, "Tarsus", fontsize=15.5, ha="center", va="baseline")

fig.savefig("out.png", dpi=100, facecolor="white")
